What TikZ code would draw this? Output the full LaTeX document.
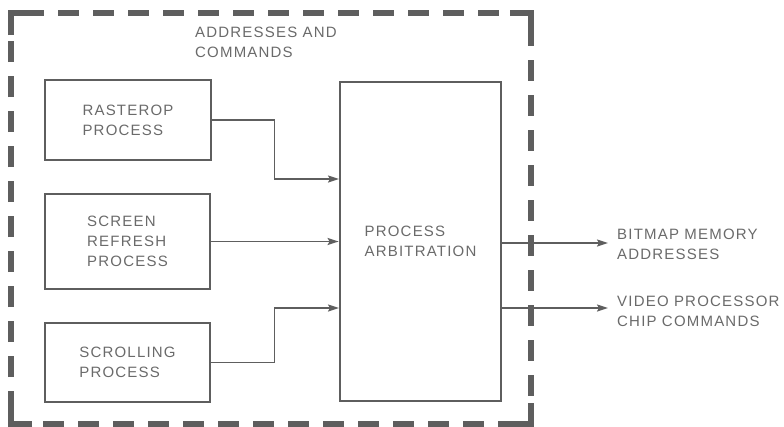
\documentclass[tikz,border=0pt]{standalone}
\usepackage{fontspec}
\setmainfont{Liberation Sans}[LetterSpace=8]
\usetikzlibrary{arrows.meta}
\definecolor{ink}{HTML}{5E5E5E}
\definecolor{txt}{HTML}{6A6A6A}
\begin{document}
\begin{tikzpicture}[x=1pt,y=-1pt,
  lbl/.style={font=\fontsize{15}{20}\selectfont, text=txt, align=left, inner sep=0pt},
  proc/.style={draw=ink, line width=2.8pt, rectangle, inner sep=0pt},
  conn/.style={draw=ink, line width=1.7pt},
  arr/.style={conn, -{Stealth[length=11pt,width=7pt,inset=2pt]}},
  border/.style={draw=ink, line width=5.5pt, dash pattern=on 21pt off 14pt, dash phase=-12pt},
  corner/.style={draw=ink, line width=5.5pt}]
\useasboundingbox (0,0) rectangle (784,426);
% dashed enclosure
\draw[border] (11,13) -- (531,13);
\draw[border] (531,13) -- (531,424);
\draw[border] (531,424) -- (11,424);
\draw[border] (11,424) -- (11,13);
\draw[corner] (11,35) -- (11,13) -- (33,13);
\draw[corner] (510,13) -- (531,13) -- (531,36);
\draw[corner] (531,403) -- (531,424) -- (510,424);
\draw[corner] (32,424) -- (11,424) -- (11,404);
% label
\node[lbl, anchor=west] (addr) at (195,42.5) {ADDRESSES AND\\COMMANDS};
% process boxes
\node[proc, minimum width=166pt, minimum height=80pt] (ras) at (128,120) {};
\node[lbl] (rast) at (ras.center) {RASTEROP\\PROCESS};
\node[proc, minimum width=165pt, minimum height=95pt] (scr) at (127.5,241.5) {};
\node[lbl] (scrt) at (scr.center) {SCREEN\\REFRESH\\PROCESS};
\node[proc, minimum width=165pt, minimum height=79pt] (scl) at (127.5,362.5) {};
\node[lbl] (sclt) at (scl.center) {SCROLLING\\PROCESS};
\node[proc, minimum width=161pt, minimum height=319pt] (arb) at (420.5,241.5) {};
\node[lbl] (arbt) at (arb.center) {PROCESS\\ARBITRATION};
% input connectors
\coordinate (in1) at (339,179);
\coordinate (in3) at (339,308);
\draw[arr] (ras.east) -- ++(62,0) |- (in1);
\draw[arr] (scr.east) -- (arb.west |- scr.east);
\draw[arr] (scl.east) -- ++(63,0) |- (in3);
% outputs
\coordinate (out1) at (608,243);
\coordinate (out2) at (608,308);
\draw[arr] (arb.east |- out1) -- (out1);
\draw[arr] (arb.east |- out2) -- (out2);
\node[lbl, anchor=west] (o1) at (617,244) {BITMAP MEMORY\\ADDRESSES};
\node[lbl, anchor=west] (o2) at (617,311.5) {VIDEO PROCESSOR\\CHIP COMMANDS};
\end{tikzpicture}
\end{document}
